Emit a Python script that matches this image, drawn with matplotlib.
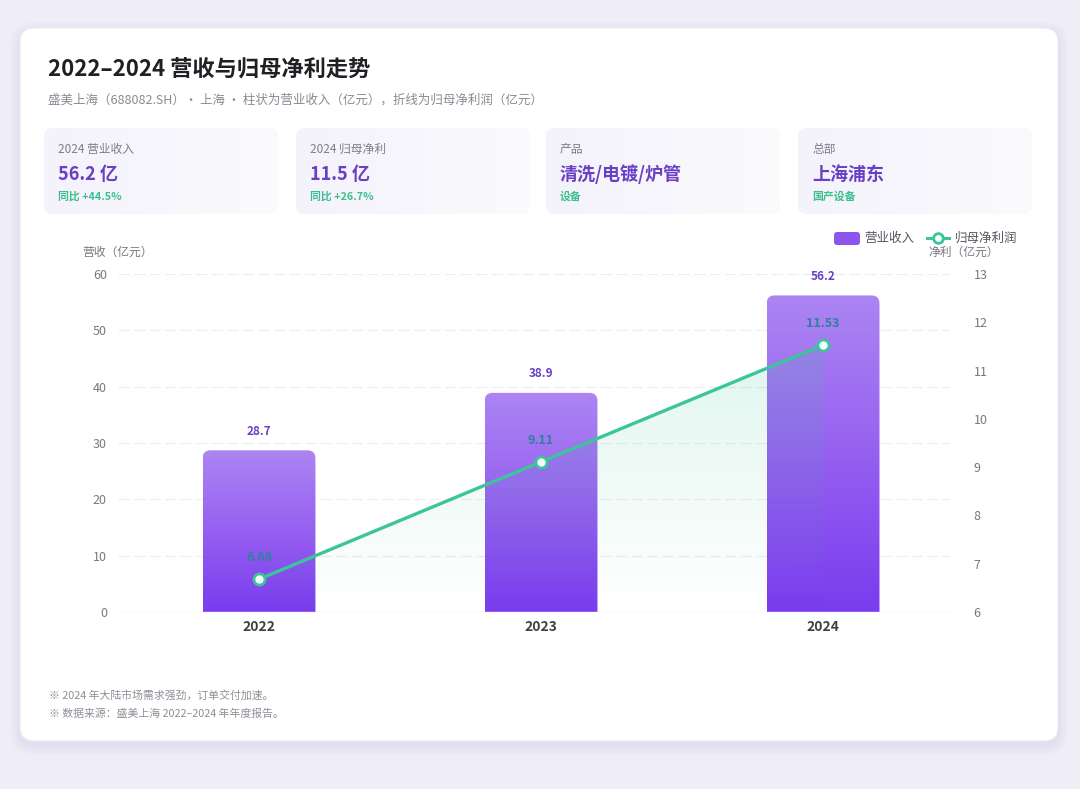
import numpy as np
import matplotlib
matplotlib.use("Agg")
import matplotlib.pyplot as plt
from matplotlib.patches import FancyBboxPatch, Polygon
from matplotlib.colors import LinearSegmentedColormap

plt.rcParams['font.family'] = ['Noto Sans CJK SC', 'DejaVu Sans']

# ---------------- data ----------------
years = ['2022', '2023', '2024']
revenue = [28.7, 38.9, 56.2]          # 营业收入 (亿元)
net_profit = [6.68, 9.11, 11.53]      # 归母净利润 (亿元)
left_ticks = [0, 10, 20, 30, 40, 50, 60]
right_ticks = [6, 7, 8, 9, 10, 11, 12, 13]

title = '2022–2024 营收与归母净利走势'
subtitle = '盛美上海（688082.SH）• 上海 • 柱状为营业收入（亿元），折线为归母净利润（亿元）'
kpi_labels = ['2024 营业收入', '2024 归母净利', '产品', '总部']
kpi_values = ['56.2 亿', '11.5 亿', '清洗/电镀/炉管', '上海浦东']
kpi_subs = ['同比 +44.5%', '同比 +26.7%', '设备', '国产设备']
notes = ['※ 2024 年大陆市场需求强劲，订单交付加速。',
         '※ 数据来源：盛美上海 2022–2024 年年度报告。']

W, H = 1080, 789
fig = plt.figure(figsize=(W / 100, H / 100), dpi=100)
fig.patch.set_facecolor('#efedf8')

# overlay in pixel coordinates
bg = fig.add_axes([0, 0, 1, 1], zorder=0)
bg.set_xlim(0, W)
bg.set_ylim(H, 0)
bg.axis('off')

# card shadow
for i, a in enumerate([0.025, 0.025, 0.03, 0.035]):
    g = 10 - i * 2.5
    bg.add_patch(FancyBboxPatch((20 - g, 28 - g + 4), 1038 + 2 * g, 713 + 2 * g,
                                boxstyle='round,pad=0,rounding_size=%d' % (14 + g),
                                fc='#8a7cc8', ec='none', alpha=a))
bg.add_patch(FancyBboxPatch((20, 28), 1038, 713, boxstyle='round,pad=0,rounding_size=14',
                            fc='white', ec='#ecebf3', lw=0.8))

# title
bg.text(48, 70, title, fontsize=16, fontweight='bold', color='#1f1f24', va='center', ha='left')
bg.text(48, 100, subtitle, fontsize=9, color='#8a8a94', va='center', ha='left')

# KPI cards
card_x = [44, 296, 546, 798]
card_w = 234
for cx, lab, val, sub in zip(card_x, kpi_labels, kpi_values, kpi_subs):
    grad = np.linspace(0, 1, 256).reshape(1, -1)
    cmap = LinearSegmentedColormap.from_list('c', ['#f4f2fb', '#fbfbfe'])
    p = FancyBboxPatch((cx, 128), card_w, 86, boxstyle='round,pad=0,rounding_size=9',
                       fc='#f6f4fc', ec='none')
    bg.add_patch(p)
    im = bg.imshow(grad, cmap=cmap, extent=[cx, cx + card_w, 214, 128], aspect='auto', zorder=1)
    im.set_clip_path(p)
    bg.text(cx + 14, 149, lab, fontsize=8.5, color='#7d7d88', va='center', ha='left', zorder=2)
    bg.text(cx + 14, 174, val, fontsize=13, fontweight='bold', color='#6a3fc4', va='center', ha='left', zorder=2)
    bg.text(cx + 14, 196, sub, fontsize=7.8, fontweight='bold', color='#3cbf8e', va='center', ha='left', zorder=2)

# legend
bg.add_patch(FancyBboxPatch((834, 232), 26, 13, boxstyle='round,pad=0,rounding_size=3',
                            fc='#8b55ee', ec='none'))
bg.text(864, 238, '营业收入', fontsize=9, color='#555560', va='center', ha='left')
bg.plot([927, 949], [238, 238], color='#3cc49a', lw=2.2)
bg.plot([938], [238], marker='o', ms=7, mfc='#f3fdfb', mec='#3cc49a', mew=2)
bg.text(955, 238, '归母净利润', fontsize=9, color='#555560', va='center', ha='left')
bg.text(928, 252, '净利（亿元）', fontsize=8.5, color='#777780', va='center', ha='left')
bg.text(82, 252, '营收（亿元）', fontsize=8.5, color='#777780', va='center', ha='left')

# footnotes
bg.text(49, 695, notes[0], fontsize=7.8, color='#8e8e98', va='center', ha='left')
bg.text(49, 714, notes[1], fontsize=7.8, color='#8e8e98', va='center', ha='left')

# ---------------- chart ----------------
L, R, T, B = 118, 950, 274, 612
ax = fig.add_axes([L / W, 1 - B / H, (R - L) / W, (B - T) / H], zorder=2)
ax.patch.set_alpha(0)
x = np.arange(len(years))
ax.set_xlim(-0.5, 2.45)
ax.set_ylim(0, 60)
ax.set_yticks(left_ticks)
for s in ax.spines.values():
    s.set_visible(False)
ax.tick_params(axis='y', length=0, labelsize=9, labelcolor='#777780', pad=8)
ax.tick_params(axis='x', length=0, labelsize=10, labelcolor='#3f3f48', pad=6)
ax.set_xticks(x)
ax.set_xticklabels(years, fontweight='bold')
for t in left_ticks[1:]:
    ax.axhline(t, color='#ececf3', lw=0.8, ls=(0, (10, 4)), zorder=0)
ax.axhline(0, color='#e2e2ea', lw=1, zorder=3)

bar_w = 0.4
px_x = (R - L) / 2.95
px_y = (B - T) / 60
rad_px = 8
bar_cmap = LinearSegmentedColormap.from_list('b', ['#7a3cee', '#9660f0', '#ac85f3'])
grad = np.linspace(0, 1, 256).reshape(-1, 1)
for xi, v in zip(x, revenue):
    p = FancyBboxPatch((xi - bar_w / 2, -5), bar_w, v + 5,
                       boxstyle='round,pad=0,rounding_size=%f' % (rad_px / px_x),
                       mutation_aspect=(rad_px / px_y) / (rad_px / px_x),
                       fc='none', ec='none')
    ax.add_patch(p)
    im = ax.imshow(grad, cmap=bar_cmap, extent=[xi - bar_w / 2, xi + bar_w / 2, 0, v],
                   origin='lower', aspect='auto', zorder=1)
    im.set_clip_path(p)
    ax.annotate(f'{v:.1f}', (xi, v), xytext=(0, 9), textcoords='offset points',
                ha='center', va='bottom', fontsize=8.5, fontweight='bold', color='#6a3fc4')
ax.set_xlim(-0.5, 2.45)
ax.set_ylim(0, 60)

ax2 = ax.twinx()
ax2.set_zorder(3)
ax2.patch.set_alpha(0)
ax2.set_ylim(6, 13)
ax2.set_yticks(right_ticks)
for s in ax2.spines.values():
    s.set_visible(False)
ax2.tick_params(axis='y', length=0, labelsize=9, labelcolor='#777780', pad=17)

# area under line
verts = [(x[0], 6)] + list(zip(x, net_profit)) + [(x[-1], 6)]
poly = Polygon(verts, closed=True, fc='none', ec='none')
ax2.add_patch(poly)
area_cmap = LinearSegmentedColormap.from_list('a', [(0.24, 0.77, 0.6, 0.0), (0.24, 0.77, 0.6, 0.16)])
ag = np.linspace(0, 1, 256).reshape(-1, 1)
im = ax2.imshow(ag, cmap=area_cmap, extent=[x[0], x[-1], 6, max(net_profit)],
                origin='lower', aspect='auto', zorder=1)
im.set_clip_path(poly)
ax2.set_xlim(-0.5, 2.45)
ax2.set_ylim(6, 13)

ax2.plot(x, net_profit, color='#3cc49a', lw=2.4, zorder=4,
         marker='o', ms=8, mfc='#f3fdfb', mec='#3cc49a', mew=2)
for xi, v in zip(x, net_profit):
    ax2.annotate(f'{v:.2f}', (xi, v), xytext=(0, 11), textcoords='offset points',
                 ha='center', va='bottom', fontsize=9, fontweight='bold', color='#2f7f9f', zorder=5)

fig.savefig('out.png', dpi=100, facecolor=fig.get_facecolor())
